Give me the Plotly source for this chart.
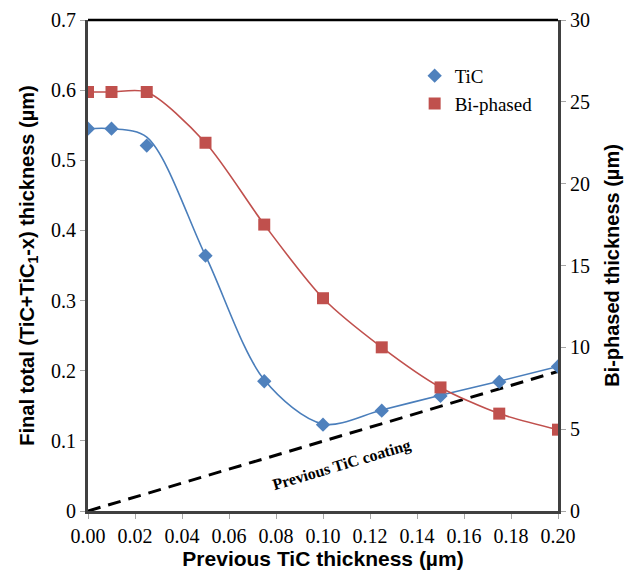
import plotly.graph_objects as go

# Data
x_prev = [0.0, 0.01, 0.025, 0.05, 0.075, 0.10, 0.125, 0.15, 0.175, 0.20]
tic = [0.545, 0.545, 0.521, 0.364, 0.185, 0.123, 0.143, 0.164, 0.184, 0.206]
tic_curve = [0.545, 0.545, 0.533, 0.364, 0.187, 0.124, 0.144, 0.165, 0.185, 0.206]
biphased = [25.6, 25.6, 25.6, 22.5, 17.5, 13.0, 10.0, 7.55, 5.95, 4.97]
coating_x = [0.0, 0.20]
coating_y = [0.0, 0.199]

x_ticks = [0.00, 0.02, 0.04, 0.06, 0.08, 0.10, 0.12, 0.14, 0.16, 0.18, 0.20]

BLUE = "#4A7EBB"
BLUE_M = "#4F81BD"
RED = "#C0504D"
SERIF = "Liberation Serif, Times New Roman, serif"
SANS = "Liberation Sans, Arial, sans-serif"

fig = go.Figure()

# dashed reference line (previous coating)
fig.add_trace(go.Scatter(x=coating_x, y=coating_y, mode="lines",
                         line=dict(color="black", width=3, dash="13px,8px"),
                         showlegend=False, hoverinfo="skip"))

# smooth curves
fig.add_trace(go.Scatter(x=x_prev, y=tic_curve, mode="lines",
                         line=dict(color=BLUE, width=1.6, shape="spline", smoothing=0.9),
                         showlegend=False, hoverinfo="skip"))
fig.add_trace(go.Scatter(x=x_prev, y=biphased, mode="lines", yaxis="y2",
                         line=dict(color=RED, width=1.6, shape="spline", smoothing=0.8),
                         showlegend=False, hoverinfo="skip"))

# markers
fig.add_trace(go.Scatter(x=x_prev, y=tic, mode="markers", name="TiC",
                         marker=dict(symbol="diamond", size=11, color=BLUE_M)))
fig.add_trace(go.Scatter(x=x_prev, y=biphased, mode="markers", name="Bi-phased", yaxis="y2",
                         marker=dict(symbol="square", size=12, color=RED)))

fig.add_annotation(x=0.108, y=0.066, xref="x", yref="y",
                   text="<b>Previous TiC coating</b>", showarrow=False,
                   textangle=-16.5,
                   font=dict(family=SERIF, size=16, color="black"))

fig.update_layout(
    width=635, height=578,
    margin=dict(l=88, r=77, t=20, b=67),
    plot_bgcolor="white", paper_bgcolor="white",
    showlegend=True,
    legend=dict(x=0.695, y=0.925, xanchor="left", yanchor="top",
                bgcolor="rgba(0,0,0,0)", font=dict(family=SERIF, size=19, color="black"),
                itemwidth=30, tracegroupgap=0),
    xaxis=dict(range=[0, 0.20], tickvals=x_ticks, tickformat=".2f",
               showgrid=False, zeroline=False, automargin=False,
               showline=True, linecolor="#404040", linewidth=3, mirror=False,
               ticks="outside", ticklen=5, tickcolor="#A6A6A6", tickwidth=1,
               tickfont=dict(family=SERIF, size=20, color="black"),
               title=dict(text="<b>Previous TiC thickness (µm)</b>",
                          font=dict(family=SANS, size=21, color="black"), standoff=3)),
    yaxis=dict(range=[0, 0.7], dtick=0.1, showgrid=False, zeroline=False, automargin=False,
               showline=True, linecolor="#404040", linewidth=3,
               ticks="outside", ticklen=5, tickcolor="#A6A6A6", tickwidth=1,
               tickfont=dict(family=SERIF, size=20, color="black"),
               title=dict(text="<b>Final total (TiC+TiC<sub>1</sub>-x) thickness (µm)</b>",
                          font=dict(family=SANS, size=20, color="black"), standoff=12)),
    yaxis2=dict(range=[0, 30], dtick=5, overlaying="y", side="right",
                showgrid=False, zeroline=False, automargin=False,
                showline=True, linecolor="#404040", linewidth=3,
                ticks="outside", ticklen=5, tickcolor="#A6A6A6", tickwidth=1,
                tickfont=dict(family=SERIF, size=20, color="black"),
                title=dict(text="<b>Bi-phased thickness (µm)</b>",
                           font=dict(family=SANS, size=20, color="black"), standoff=16)),
    shapes=[dict(type="line", xref="paper", yref="paper", x0=0, x1=1, y0=1, y1=1,
                 line=dict(color="black", width=2.5))],
)

fig.write_html("out.html")
